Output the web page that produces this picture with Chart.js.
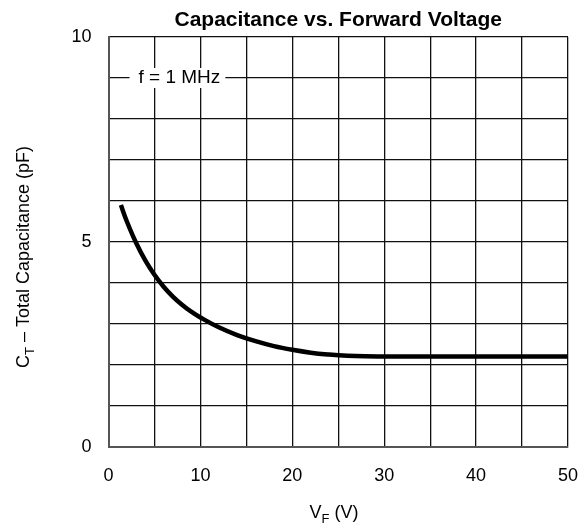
<!DOCTYPE html>
<html>
<head>
<meta charset="utf-8">
<script src="https://cdn.jsdelivr.net/npm/chart.js@4"></script>
<style>
html,body{margin:0;padding:0;background:#fff;}
#wrap{width:582px;height:529px;position:relative;}
</style>
</head>
<body>
<div id="wrap"><canvas id="c" width="582" height="529"></canvas></div>
<script>
// Data
const vf = [1.35, 2, 3, 4, 5, 6, 7, 8, 9, 10, 12, 14, 16, 18, 20, 22, 24, 26, 28, 30, 35, 40, 45, 50];
const ct = [5.9, 5.5, 4.98, 4.55, 4.2, 3.91, 3.67, 3.47, 3.3, 3.16, 2.92, 2.73, 2.58, 2.46, 2.37, 2.3, 2.255, 2.225, 2.212, 2.21, 2.21, 2.21, 2.21, 2.21];
const xLabels = [0, 10, 20, 30, 40, 50];
const yLabels = [0, 5, 10];
const titleText = 'Capacitance vs. Forward Voltage';
const xTitle = [{t:'V'},{t:'F',sub:true},{t:' (V)'}];
const yTitle = [{t:'C'},{t:'T',sub:true},{t:' – Total Capacitance (pF)'}];
const noteText = 'f = 1 MHz';
const noteAt = {x: 7.5, y: 9};

const FONT = 'Liberation Sans, Arial, Helvetica, sans-serif';

function richWidth(ctx, parts, size) {
  let w = 0;
  for (const p of parts) {
    ctx.font = (p.sub ? Math.round(size*0.7) : size) + 'px ' + FONT;
    w += ctx.measureText(p.t).width;
  }
  return w;
}
function drawRich(ctx, parts, size, x, y) {
  let w = richWidth(ctx, parts, size);
  let cx = x - w/2;
  ctx.textBaseline = 'alphabetic';
  ctx.textAlign = 'left';
  for (const p of parts) {
    const s = p.sub ? Math.round(size*0.7) : size;
    ctx.font = s + 'px ' + FONT;
    ctx.fillText(p.t, cx, y + (p.sub ? size*0.28 : 0));
    cx += ctx.measureText(p.t).width;
  }
}

const decor = {
  id: 'decor',
  afterDraw(chart) {
    const ctx = chart.ctx;
    const a = chart.chartArea;
    ctx.save();
    ctx.fillStyle = '#000';
    // title
    ctx.font = 'bold 21px ' + FONT;
    ctx.textAlign = 'center';
    ctx.textBaseline = 'middle';
    ctx.fillText(titleText, (a.left + a.right)/2, 20);
    // x title
    drawRich(ctx, xTitle, 18, 334, 518);
    // y title
    ctx.save();
    ctx.translate(29, 257);
    ctx.rotate(-Math.PI/2);
    drawRich(ctx, yTitle, 18, 0, 0);
    ctx.restore();
    ctx.restore();
  },
  beforeDatasetsDraw(chart) {
    const ctx = chart.ctx;
    const xs = chart.scales.x, ys = chart.scales.y;
    const px = xs.getPixelForValue(noteAt.x), py = ys.getPixelForValue(noteAt.y);
    ctx.save();
    ctx.font = '19px ' + FONT;
    const w = ctx.measureText(noteText).width;
    ctx.fillStyle = '#fff';
    ctx.fillRect(px - w/2 - 7, py - 10, w + 14, 20);
    ctx.fillStyle = '#000';
    ctx.textAlign = 'center';
    ctx.textBaseline = 'middle';
    ctx.fillText(noteText, px + 2, py);
    ctx.restore();
  }
};

new Chart(document.getElementById('c'), {
  type: 'line',
  data: {
    datasets: [{
      data: vf.map((v, i) => ({x: v, y: ct[i]})),
      borderColor: '#000',
      borderWidth: 4.5,
      pointRadius: 0,
      tension: 0.4,
      fill: false
    }]
  },
  options: {
    responsive: false,
    animation: false,
    devicePixelRatio: 1,
    layout: { padding: { top: 37, right: 14, left: 0, bottom: 0 } },
    plugins: { legend: { display: false }, tooltip: { enabled: false }, title: { display: false } },
    scales: {
      x: {
        type: 'linear', min: 0, max: 50,
        afterFit(s) { s.height = 82; s.paddingLeft = 0; s.paddingRight = 0; },
        grid: { color: '#111', lineWidth: 1.3, drawTicks: false },
        border: { color: '#555', width: 2 },
        ticks: {
          stepSize: 5, padding: 18, color: '#000',
          font: { size: 18, family: FONT },
          maxRotation: 0, autoSkip: false,
          callback: v => xLabels.includes(v) ? String(v) : ''
        }
      },
      y: {
        type: 'linear', min: 0, max: 10,
        afterFit(s) { s.width = 108.5; },
        grid: { color: '#111', lineWidth: 1.3, drawTicks: false },
        border: { color: '#555', width: 2 },
        ticks: {
          stepSize: 1, padding: 17, color: '#000',
          font: { size: 18, family: FONT },
          autoSkip: false,
          callback: v => yLabels.includes(v) ? String(v) : ''
        }
      }
    }
  },
  plugins: [decor]
});
</script>
</body>
</html>
